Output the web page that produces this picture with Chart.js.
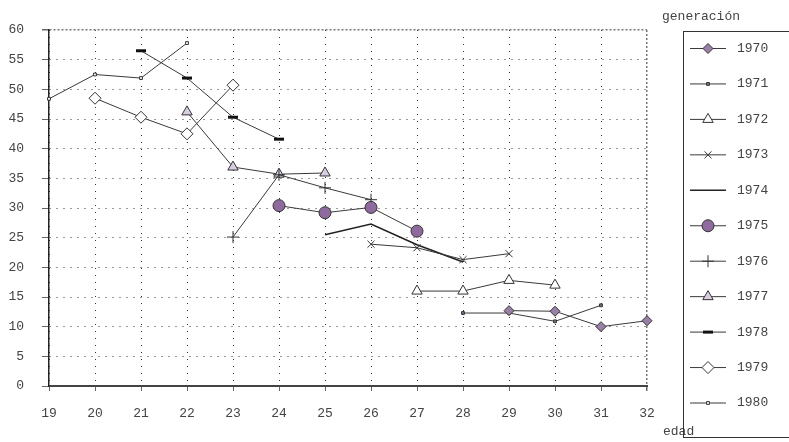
<!DOCTYPE html>
<html>
<head>
<meta charset="utf-8">
<script src="https://cdn.jsdelivr.net/npm/chart.js@4.4.1/dist/chart.umd.min.js"></script>
<style>
  html, body { margin: 0; padding: 0; background: #fff; }
  #wrap { width: 789px; height: 442px; position: relative; }
</style>
</head>
<body>
<div id="wrap"><canvas id="chart" width="789" height="442"></canvas></div>
<script>
// edad (x) y valores por generación
const generaciones = ['1970', '1971', '1972', '1973', '1974', '1975', '1976', '1977', '1978', '1979', '1980'];
const edades1970 = [29, 30, 31, 32];
const valores1970 = [12.7, 12.6, 10.0, 11.0];
const edades1971 = [28, 29, 30, 31];
const valores1971 = [12.3, 12.3, 10.9, 13.6];
const edades1972 = [27, 28, 29, 30];
const valores1972 = [16.0, 16.0, 17.8, 17.0];
const edades1973 = [26, 27, 28, 29];
const valores1973 = [23.9, 23.3, 21.3, 22.3];
const edades1974 = [25, 26, 27, 28];
const valores1974 = [25.5, 27.3, 23.8, 20.9];
const edades1975 = [24, 25, 26, 27];
const valores1975 = [30.4, 29.2, 30.1, 26.1];
const edades1976 = [23, 24, 25, 26];
const valores1976 = [25.1, 35.6, 33.4, 31.4];
const edades1977 = [22, 23, 24, 25];
const valores1977 = [46.2, 36.9, 35.7, 35.9];
const edades1978 = [21, 22, 23, 24];
const valores1978 = [56.5, 51.9, 45.3, 41.6];
const edades1979 = [20, 21, 22, 23];
const valores1979 = [48.5, 45.3, 42.5, 50.7];
const edades1980 = [19, 20, 21, 22];
const valores1980 = [48.4, 52.5, 51.9, 57.8];

const yTicks = [0, 5, 10, 15, 20, 25, 30, 35, 40, 45, 50, 55, 60];
const xTicks = [19, 20, 21, 22, 23, 24, 25, 26, 27, 28, 29, 30, 31, 32];

const FONT = '"Liberation Mono", "DejaVu Sans Mono", monospace';
const LINE = '#3a3a3a';
const TEXTO = '#444';

function puntos(xs, ys) {
    return xs.map((x, i) => ({ x: x, y: ys[i] }));
}

// estilo de cada serie
const estilos = [
    { pointStyle: 'rectRot', radius: 5, bg: '#9a7fa6', bw: 1, lw: 1 },
    { pointStyle: 'rect', radius: 2, bg: '#8a6c96', bw: 1, lw: 1 },
    { pointStyle: 'triangle', radius: 6, bg: '#ffffff', bw: 1, lw: 1 },
    { pointStyle: 'crossRot', radius: 5, bg: '#ffffff', bw: 1, lw: 1 },
    { pointStyle: false, radius: 0, bg: '#ffffff', bw: 1, lw: 1.6 },
    { pointStyle: 'circle', radius: 6, bg: '#8e6a9e', bw: 1, lw: 1 },
    { pointStyle: 'cross', radius: 6, bg: '#ffffff', bw: 1, lw: 1 },
    { pointStyle: 'triangle', radius: 6, bg: '#d9cde2', bw: 1, lw: 1 },
    { pointStyle: 'line', radius: 5, bg: '#111111', bw: 3, lw: 1 },
    { pointStyle: 'rectRot', radius: 6, bg: '#ffffff', bw: 1, lw: 1 },
    { pointStyle: 'rect', radius: 2, bg: '#ffffff', bw: 1, lw: 1 }
];

const series = [
    puntos(edades1970, valores1970),
    puntos(edades1971, valores1971),
    puntos(edades1972, valores1972),
    puntos(edades1973, valores1973),
    puntos(edades1974, valores1974),
    puntos(edades1975, valores1975),
    puntos(edades1976, valores1976),
    puntos(edades1977, valores1977),
    puntos(edades1978, valores1978),
    puntos(edades1979, valores1979),
    puntos(edades1980, valores1980)
];

const datasets = generaciones.map((g, i) => {
    const e = estilos[i];
    return {
        label: g,
        data: series[i],
        borderColor: i === 4 ? '#222' : LINE,
        borderWidth: e.lw,
        pointStyle: e.pointStyle,
        pointRadius: e.radius,
        pointBackgroundColor: e.bg,
        pointBorderColor: i === 8 ? '#111' : '#333',
        pointBorderWidth: e.bw,
        fill: false,
        tension: 0,
        clip: false
    };
});

// leyenda y textos fuera del área de trazado
const leyendaPlugin = {
    id: 'leyenda',
    afterDraw(chart) {
        const ctx = chart.ctx;
        ctx.save();
        ctx.font = '13px ' + FONT;
        ctx.fillStyle = TEXTO;
        ctx.textBaseline = 'middle';
        ctx.textAlign = 'left';
        ctx.fillText('generación', 662, 17);
        ctx.fillText('edad', 663, 432);

        ctx.strokeStyle = '#333';
        ctx.lineWidth = 1;
        ctx.strokeRect(683.5, 31.5, 110, 406);

        generaciones.forEach((g, i) => {
            const ds = datasets[i];
            const y = 48.5 + i * 35.45;
            ctx.strokeStyle = ds.borderColor;
            ctx.lineWidth = ds.borderWidth;
            ctx.beginPath();
            ctx.moveTo(690, y);
            ctx.lineTo(726, y);
            ctx.stroke();
            if (ds.pointStyle) {
                ctx.fillStyle = ds.pointBackgroundColor;
                ctx.strokeStyle = ds.pointBorderColor;
                ctx.lineWidth = ds.pointBorderWidth;
                Chart.helpers.drawPoint(ctx, {
                    pointStyle: ds.pointStyle,
                    radius: ds.pointRadius,
                    borderWidth: ds.pointBorderWidth,
                    rotation: 0
                }, 708, y);
            }
            ctx.fillStyle = TEXTO;
            ctx.fillText(g, 737, y);
        });
        ctx.restore();
    }
};

// líneas del marco superior y derecho más densas
const esBorde = (c, v) => c.tick && c.tick.value === v;

new Chart(document.getElementById('chart').getContext('2d'), {
    type: 'line',
    data: { datasets: datasets },
    options: {
        responsive: false,
        animation: false,
        layout: { padding: { top: 30, right: 142, left: 0, bottom: 0 } },
        plugins: {
            legend: { display: false },
            tooltip: { enabled: false }
        },
        scales: {
            x: {
                type: 'linear',
                min: 19,
                max: 32,
                afterBuildTicks: s => { s.ticks = xTicks.map(v => ({ value: v })); },
                afterFit: s => { s.height = 56; },
                ticks: {
                    font: { family: FONT, size: 13 },
                    color: TEXTO,
                    padding: 15,
                    maxRotation: 0
                },
                grid: {
                    color: c => esBorde(c, 32) ? '#777' : '#333',
                    tickBorderDash: [],
                    tickColor: '#666',
                    tickLength: 5,
                    lineWidth: c => esBorde(c, 32) ? 1.5 : 1
                },
                border: {
                    display: true, color: '#444', width: 2,
                    dash: c => esBorde(c, 32) ? [2, 2] : [1, 6]
                }
            },
            y: {
                min: 0,
                max: 60,
                afterBuildTicks: s => { s.ticks = yTicks.map(v => ({ value: v })); },
                afterFit: s => { s.width = 49; },
                ticks: {
                    font: { family: FONT, size: 13 },
                    color: TEXTO,
                    padding: 18
                },
                grid: {
                    color: c => esBorde(c, 60) ? '#777' : '#333',
                    tickBorderDash: [],
                    tickColor: '#666',
                    tickLength: 7,
                    lineWidth: c => esBorde(c, 60) ? 1.5 : 1
                },
                border: {
                    display: true, color: '#222', width: 1.5,
                    dash: c => esBorde(c, 60) ? [2, 2] : [1, 6]
                }
            }
        }
    },
    plugins: [leyendaPlugin]
});
</script>
</body>
</html>
